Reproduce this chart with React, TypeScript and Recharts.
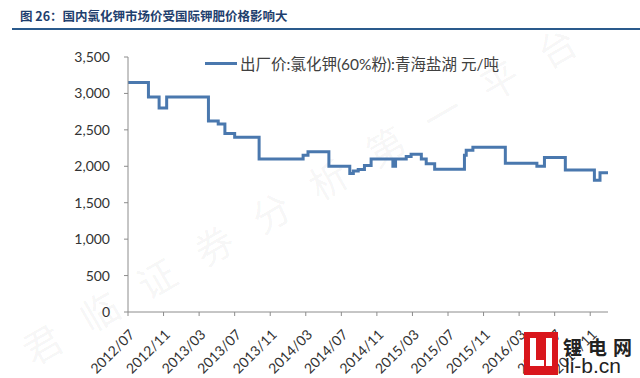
import { LineChart, Line, XAxis, YAxis } from 'recharts'

// month offsets counted from 2012/07, where each price step starts
const stepMonths = [
  0, 2.3, 3.5, 4.35, 9.05, 10.15, 10.9, 12.0, 14.75, 19.7, 20.25, 22.6,
  24.95, 25.35, 25.9, 26.6, 27.35, 29.8, 30.1, 31.3, 31.85, 33.0, 33.55,
  34.5, 37.85, 38.05, 38.8, 42.45, 46.0, 46.85, 49.2, 52.47, 53.1, 54.0,
]
const priceValues = [
  3150, 2950, 2800, 2950, 2620, 2580, 2450, 2400, 2100, 2150, 2200, 2000,
  1900, 1935, 1955, 2010, 2100, 2000, 2100, 2135, 2165, 2100, 2035,
  1960, 2150, 2220, 2260, 2040, 2000, 2120, 1950, 1810, 1910, 1910,
]
const monthTicks = [0, 4, 8, 12, 16, 20, 24, 28, 32, 36, 40, 44, 48, 52]
const yTicks = [0, 500, 1000, 1500, 2000, 2500, 3000, 3500]
const seriesName = '出厂价:氯化钾(60%粉):青海盐湖 元/吨'
const titleText = '图 26：国内氯化钾市场价受国际钾肥价格影响大'
const watermark = '君临证券分析第一平台'

const data = stepMonths.map((m, i) => ({ m, price: priceValues[i] }))

const AXIS = '#8c8c8c'
const LINE = '#4a78ae'
const FONT = 'Lato, "Noto Sans CJK SC", sans-serif'

function monthLabel(m: number) {
  const total = 2012 * 12 + 6 + m
  const y = Math.floor(total / 12)
  const mo = (total % 12) + 1
  return `${y}/${mo < 10 ? '0' + mo : mo}`
}

function DateTick({ x, y, payload }: any) {
  const tx = x + 5
  const ty = y + 15
  return (
    <text
      x={tx}
      y={ty}
      transform={`rotate(-45, ${tx}, ${ty})`}
      textAnchor="end"
      dominantBaseline="middle"
      fontSize={14}
      fontFamily={FONT}
      fill="#333"
    >
      {monthLabel(payload.value)}
    </text>
  )
}

export default function App() {
  return (
    <div style={{ position: 'absolute', left: 0, top: 0, width: 640, height: 378, background: '#fff', overflow: 'hidden' }}>
      <div style={{
        position: 'absolute', left: 20, top: 6, fontFamily: '"Noto Sans CJK SC", sans-serif',
        fontWeight: 700, fontSize: 12.5, color: '#1f3f6e', whiteSpace: 'nowrap',
      }}>
        {titleText}
      </div>
      <div style={{ position: 'absolute', left: 12, right: 0, top: 28, height: 2, background: '#2a5a8c' }} />

      <div style={{
        position: 'absolute', left: 25, top: 325, transform: 'rotate(-30deg)', transformOrigin: 'left center',
        fontFamily: '"Noto Sans CJK SC", sans-serif', fontSize: 38, letterSpacing: 28,
        color: 'rgba(0,0,0,0.05)', whiteSpace: 'nowrap', pointerEvents: 'none',
      }}>
        {watermark}
      </div>

      <LineChart
        width={640}
        height={378}
        data={data}
        margin={{ top: 57, right: 32, left: 0, bottom: 0 }}
        style={{ position: 'absolute', left: 0, top: 0 }}
      >
        <XAxis
          dataKey="m"
          type="number"
          domain={[0, 54]}
          ticks={monthTicks}
          interval={0}
          height={66}
          stroke={AXIS}
          tickSize={4}
          tick={<DateTick />}
        />
        <YAxis
          type="number"
          domain={[0, 3500]}
          ticks={yTicks}
          width={128}
          stroke={AXIS}
          tickSize={4}
          tickMargin={14}
          tickFormatter={(v) => v.toLocaleString('en-US')}
          tick={{ fontSize: 14, fontFamily: FONT, fill: '#333' }}
        />
        <Line
          type="stepAfter"
          dataKey="price"
          name={seriesName}
          stroke={LINE}
          strokeWidth={3}
          dot={false}
          isAnimationActive={false}
        />
      </LineChart>

      <div style={{
        position: 'absolute', left: 205, top: 52, display: 'flex', alignItems: 'center',
        fontFamily: FONT, fontSize: 15.5, color: '#404040', whiteSpace: 'nowrap',
      }}>
        <span style={{ display: 'inline-block', width: 32, height: 3, background: LINE, marginRight: 3 }} />
        <span>{seriesName}</span>
      </div>

      <div style={{ position: 'absolute', left: 524, top: 332, width: 34, height: 43, background: '#d9161c' }}>
        <div style={{ position: 'absolute', left: 6, top: 6, width: 6, height: 28, background: '#fff' }} />
        <div style={{ position: 'absolute', left: 6, top: 28, width: 14, height: 6, background: '#fff' }} />
        <div style={{ position: 'absolute', left: 22, top: 6, width: 6, height: 28, background: '#fff' }} />
      </div>
      <div style={{
        position: 'absolute', left: 563, top: 333, fontFamily: '"Noto Sans CJK SC", sans-serif',
        fontWeight: 700, fontSize: 19, letterSpacing: 6, color: '#222', whiteSpace: 'nowrap',
      }}>
        锂电网
      </div>
      <div style={{
        position: 'absolute', left: 565, top: 354, fontFamily: '"Liberation Sans Narrow", "Liberation Sans", sans-serif',
        fontSize: 21, color: '#222', whiteSpace: 'nowrap',
      }}>
        li-b.cn
      </div>
    </div>
  )
}
